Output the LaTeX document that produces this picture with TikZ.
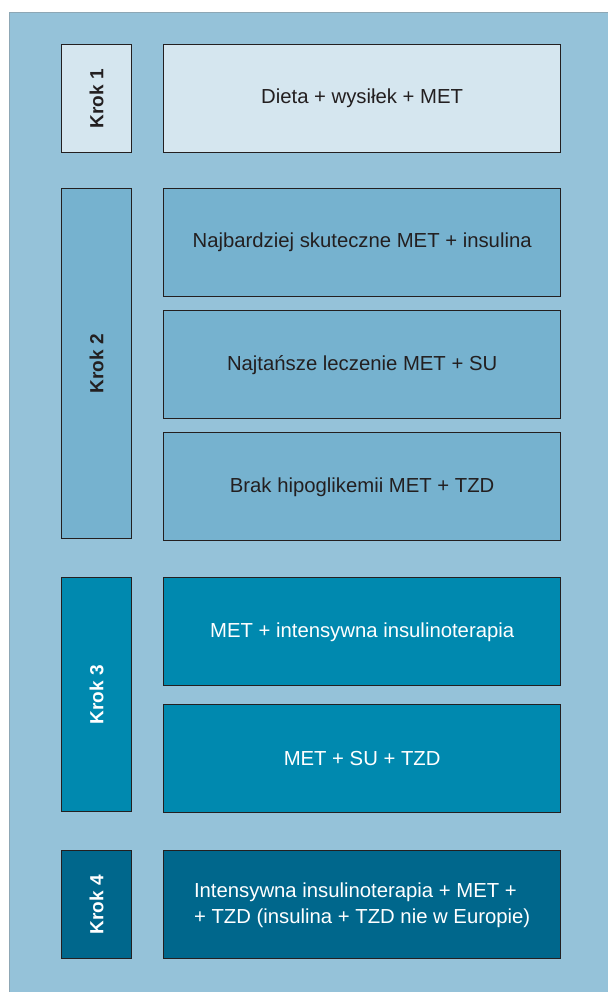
\documentclass[tikz,border=0pt]{standalone}
\usepackage{fontspec}
\setmainfont{Liberation Sans}
\usetikzlibrary{positioning}

\definecolor{panelblue}{HTML}{95C2D9}
\definecolor{stepone}{HTML}{D5E6EF}
\definecolor{steptwo}{HTML}{76B2CF}
\definecolor{stepthree}{HTML}{0089AF}
\definecolor{stepfour}{HTML}{00678C}
\definecolor{inkdark}{HTML}{231F20}

\begin{document}
\begin{tikzpicture}[
  x=1pt, y=-1pt,
  krok/.style={rectangle, draw=inkdark, line width=1.1pt, minimum width=70pt, inner sep=0pt, font=\fontsize{19}{22}\selectfont\bfseries},
  item/.style={rectangle, draw=inkdark, line width=1.1pt, minimum width=397pt, minimum height=108pt, align=center, font=\fontsize{20.3}{26}\selectfont},
  light/.style={fill=#1, text=inkdark},
  dark/.style={fill=#1, text=white}
]

\useasboundingbox (0,0) rectangle (607,992);
\fill[white] (0,0) rectangle (607,992);
\draw[panelblue!60!gray, fill=panelblue, line width=0.8pt] (9,12) rectangle (608,993);

% Krok 1
\node[krok, light=stepone, minimum height=108pt, anchor=north west] (k1) at (61,44) {\rotatebox{90}{Krok 1}};
\node[item, light=stepone, right=31pt of k1] (m1) {Dieta + wysiłek + MET};

% Krok 2
\node[krok, light=steptwo, minimum height=350pt, below=35pt of k1] (k2) {\rotatebox{90}{Krok 2}};
\node[item, light=steptwo, anchor=north west] (m2a) at ([xshift=31pt]k2.north east) {Najbardziej skuteczne MET + insulina};
\node[item, light=steptwo, below=13pt of m2a] (m2b) {Najtańsze leczenie MET + SU};
\node[item, light=steptwo, below=13pt of m2b] (m2c) {Brak hipoglikemii MET + TZD};

% Krok 3
\node[krok, dark=stepthree, minimum height=234pt, below=38pt of k2] (k3) {\rotatebox{90}{Krok 3}};
\node[item, dark=stepthree, anchor=north west] (m3a) at ([xshift=31pt]k3.north east) {MET + intensywna insulinoterapia};
\node[item, dark=stepthree, below=18pt of m3a] (m3b) {MET + SU + TZD};

% Krok 4
\node[krok, dark=stepfour, minimum height=108pt, below=38pt of k3] (k4) {\rotatebox{90}{Krok 4}};
\node[item, dark=stepfour, right=31pt of k4] (m4) {\begin{tabular}{@{}l@{}}Intensywna insulinoterapia + MET +\\+ TZD (insulina + TZD nie w Europie)\end{tabular}};

\end{tikzpicture}
\end{document}
